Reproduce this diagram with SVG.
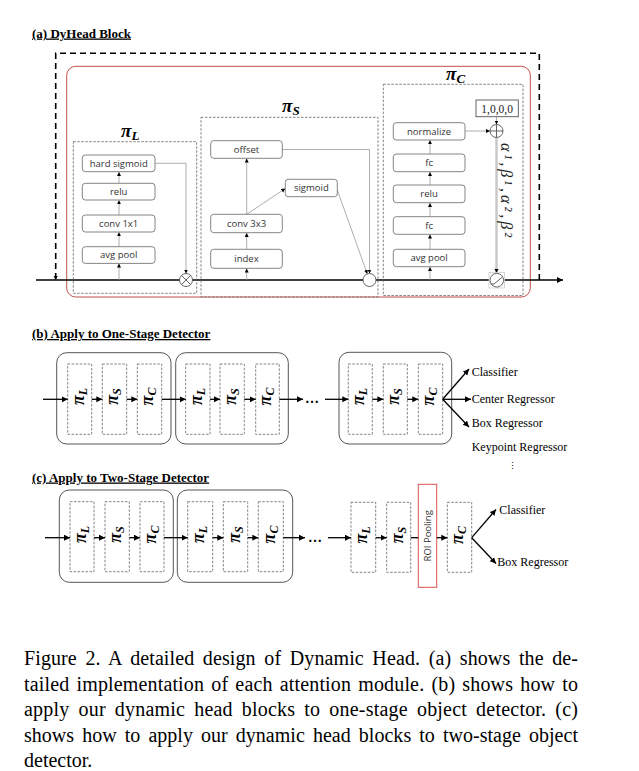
<svg xmlns="http://www.w3.org/2000/svg" width="639" height="771" viewBox="0 0 639 771">
<defs>
<style>
.box{fill:#fff;stroke:#777;stroke-width:0.9}
.lbl{font-family:"Open Sans","Liberation Sans",sans-serif;font-size:9.5px;fill:#333;text-anchor:middle}
.mod{fill:none;stroke:#666;stroke-width:0.8;stroke-dasharray:2.5 1.5}
.thin{fill:none;stroke:#999;stroke-width:0.8}
.pi{font-family:"Liberation Serif",serif;font-weight:bold;font-style:italic;font-size:19px;fill:#000}
.pir{font-family:"Liberation Serif",serif;font-weight:bold;font-style:italic;font-size:18px;fill:#000;text-anchor:middle}
.title{font-family:"Liberation Serif",serif;font-weight:bold;font-size:13px;text-decoration:underline;fill:#000}
.blk{fill:#fff;stroke:#555;stroke-width:1}
.arr{fill:none;stroke:#000;stroke-width:1.3}
.out{font-family:"Liberation Serif",serif;font-size:12px;fill:#000}
.cap{font-family:"Liberation Serif",serif;font-size:20px;fill:#000}
.op{fill:#fff;stroke:#555;stroke-width:0.9}
</style>
<marker id="sa" markerUnits="userSpaceOnUse" markerWidth="5" markerHeight="5" refX="4" refY="2" orient="auto"><path d="M0,0 L4,2 L0,4 z" fill="#000"/></marker>
<marker id="ba" markerUnits="userSpaceOnUse" markerWidth="8" markerHeight="8" refX="6" refY="3" orient="auto"><path d="M0,0 L6,3 L0,6 z" fill="#000"/></marker>
</defs>
<rect width="639" height="771" fill="#fff"/>

<!-- (a) -->
<text class="title" x="32" y="37.5">(a) DyHead Block</text>
<rect x="66.7" y="66.3" width="463.6" height="230.7" rx="9" fill="none" stroke="#c0504d" stroke-width="1"/>

<g id="connectors-a">
<path d="M539.3,280 V53.3 H55.7 V280" fill="none" stroke="#000" stroke-width="1.6" stroke-dasharray="6 4" marker-end="url(#sa)"/>
<path d="M36,280 H563" fill="none" stroke="#000" stroke-width="1.5" marker-end="url(#ba)"/>
<path class="thin" d="M119,280 V263.5" marker-end="url(#sa)"/>
<path class="thin" d="M119,246.7 V232.2" marker-end="url(#sa)"/>
<path class="thin" d="M119,215 V200.2" marker-end="url(#sa)"/>
<path class="thin" d="M119,183.3 V171.9" marker-end="url(#sa)"/>
<path class="thin" d="M155,163.3 H186 V273.5" marker-end="url(#sa)"/>
<path class="thin" d="M246.7,280 V268.5" marker-end="url(#sa)"/>
<path class="thin" d="M246.7,249.3 V232.9" marker-end="url(#sa)"/>
<path class="thin" d="M246.7,214.3 V158.5" marker-end="url(#sa)"/>
<path class="thin" d="M246.7,214.3 L285.3,188.5" marker-end="url(#sa)"/>
<path class="thin" d="M282.3,149.5 H369.5 V273.5" marker-end="url(#sa)"/>
<path class="thin" d="M337.3,190 L367.3,273.9" marker-end="url(#sa)"/>
<path class="thin" d="M430,280 V266.9" marker-end="url(#sa)"/>
<path class="thin" d="M430,249.3 V234.5" marker-end="url(#sa)"/>
<path class="thin" d="M430,216.7 V202.9" marker-end="url(#sa)"/>
<path class="thin" d="M430,185 V171.9" marker-end="url(#sa)"/>
<path class="thin" d="M430,154 V140.2" marker-end="url(#sa)"/>
<path class="thin" d="M465,131 H490" marker-end="url(#sa)"/>
<path class="thin" d="M496.5,116.7 V124.5" marker-end="url(#sa)"/>
<path d="M496.5,137.5 V273" fill="none" stroke="#c8c8c8" stroke-width="2.5" marker-end="url(#sa)"/>
</g>

<g id="piL">
<rect class="mod" x="73.3" y="141.7" width="123.4" height="151.6"/>
<text class="pi" x="121" y="136.5">π<tspan font-size="13" dy="3">L</tspan></text>
<rect class="box" x="82.3" y="155" width="72.7" height="16.7" rx="3"/>
<text class="lbl" x="118.7" y="166.7">hard sigmoid</text>
<rect class="box" x="82.3" y="183.3" width="72.7" height="16.7" rx="3"/>
<text class="lbl" x="118.7" y="195">relu</text>
<rect class="box" x="82.3" y="215" width="72.7" height="17" rx="3"/>
<text class="lbl" x="118.7" y="226.8">conv 1x1</text>
<rect class="box" x="82.3" y="246.7" width="72.7" height="16.7" rx="3"/>
<text class="lbl" x="118.7" y="258.4">avg pool</text>
</g>

<g id="piS">
<rect class="mod" x="201" y="117.3" width="177" height="179.7"/>
<text class="pi" x="282" y="111.5">π<tspan font-size="13" dy="3">S</tspan></text>
<rect class="box" x="210.7" y="140.7" width="71.6" height="17.6" rx="3"/>
<text class="lbl" x="246.5" y="152.8">offset</text>
<rect class="box" x="285.3" y="179.3" width="52" height="17.4" rx="3"/>
<text class="lbl" x="311.3" y="191.3">sigmoid</text>
<rect class="box" x="210.7" y="214.3" width="71.6" height="18.4" rx="3"/>
<text class="lbl" x="246.5" y="226.8">conv 3x3</text>
<rect class="box" x="210.7" y="249.3" width="71.6" height="19" rx="3"/>
<text class="lbl" x="246.5" y="262.1">index</text>
</g>

<g id="piC">
<rect class="mod" x="383.3" y="84.3" width="139.7" height="211.2"/>
<text class="pi" x="446" y="80">π<tspan font-size="13" dy="3">C</tspan></text>
<rect x="476" y="100" width="42.3" height="16.7" fill="#fff" stroke="#555" stroke-width="0.9"/>
<text x="497.1" y="112.5" text-anchor="middle" font-family="Liberation Serif,serif" font-size="11.5" fill="#222">1,0,0,0</text>
<rect class="box" x="393.3" y="122.7" width="71.7" height="17.3" rx="3"/>
<text class="lbl" x="429.1" y="134.7">normalize</text>
<rect class="box" x="393.3" y="154" width="71.7" height="17.7" rx="3"/>
<text class="lbl" x="429.1" y="166.2">fc</text>
<rect class="box" x="393.3" y="185" width="71.7" height="17.7" rx="3"/>
<text class="lbl" x="429.1" y="197.2">relu</text>
<rect class="box" x="393.3" y="216.7" width="71.7" height="17.6" rx="3"/>
<text class="lbl" x="429.1" y="228.8">fc</text>
<rect class="box" x="393.3" y="249.3" width="71.7" height="17.4" rx="3"/>
<text class="lbl" x="429.1" y="261.3">avg pool</text>
<text transform="translate(500.5,190) rotate(90)" text-anchor="middle" font-family="Liberation Serif,serif" font-style="italic" font-size="16" fill="#222" textLength="94" lengthAdjust="spacing">α¹,β¹,α²,β²</text>
</g>

<g id="ops">
<circle class="op" cx="186" cy="280" r="6.5"/>
<path d="M181.4,275.4 L190.6,284.6 M190.6,275.4 L181.4,284.6" stroke="#555" stroke-width="0.9"/>
<circle class="op" cx="369.5" cy="280" r="6.5"/>
<circle class="op" cx="496.5" cy="131" r="6.5"/>
<path d="M490,131 H503 M496.5,124.5 V137.5" stroke="#555" stroke-width="0.9"/>
<rect x="489" y="272.5" width="15.5" height="15.5" fill="#fff" stroke="#ccc" stroke-width="0.8"/>
<circle class="op" cx="496.8" cy="280.2" r="6.8"/>
<path d="M490.8,284 L494,284 L502.5,277" fill="none" stroke="#555" stroke-width="0.9"/>
</g>

<!-- (b) -->
<text class="title" x="32" y="338">(b) Apply to One-Stage Detector</text>
<g id="b-block1">
<rect class="blk" x="56.7" y="352.7" width="114.3" height="91.3" rx="10"/>
<rect class="mod" x="67.7" y="364" width="24" height="70.3"/>
<rect class="mod" x="102.3" y="364" width="24.4" height="70.3"/>
<rect class="mod" x="137.3" y="364" width="24.4" height="70.3"/>
<text class="pir" transform="translate(83.6,396.5) rotate(-90)">π<tspan font-size="12" dy="3">L</tspan></text>
<text class="pir" transform="translate(118.4,396.5) rotate(-90)">π<tspan font-size="12" dy="3">S</tspan></text>
<text class="pir" transform="translate(153.4,396.5) rotate(-90)">π<tspan font-size="12" dy="3">C</tspan></text>
</g>
<g id="b-block2">
<rect class="blk" x="175.7" y="352.7" width="112.6" height="91.3" rx="10"/>
<rect class="mod" x="185.7" y="364" width="24.3" height="70.3"/>
<rect class="mod" x="220" y="364" width="24.3" height="70.3"/>
<rect class="mod" x="255.7" y="364" width="23.6" height="70.3"/>
<text class="pir" transform="translate(201.7,396.5) rotate(-90)">π<tspan font-size="12" dy="3">L</tspan></text>
<text class="pir" transform="translate(236,396.5) rotate(-90)">π<tspan font-size="12" dy="3">S</tspan></text>
<text class="pir" transform="translate(271.3,396.5) rotate(-90)">π<tspan font-size="12" dy="3">C</tspan></text>
</g>
<g id="b-block3">
<rect class="blk" x="339" y="352.3" width="112.7" height="91.7" rx="10"/>
<rect class="mod" x="348.3" y="364" width="24" height="70.3"/>
<rect class="mod" x="383.3" y="364" width="24" height="70.3"/>
<rect class="mod" x="418.3" y="364" width="24.4" height="70.3"/>
<text class="pir" transform="translate(364.2,396.5) rotate(-90)">π<tspan font-size="12" dy="3">L</tspan></text>
<text class="pir" transform="translate(399.2,396.5) rotate(-90)">π<tspan font-size="12" dy="3">S</tspan></text>
<text class="pir" transform="translate(434.3,396.5) rotate(-90)">π<tspan font-size="12" dy="3">C</tspan></text>
</g>
<g id="connectors-b">
<path class="arr" d="M43,399.3 H67.7" marker-end="url(#ba)"/>
<path class="arr" d="M91.7,399.3 H102.3" marker-end="url(#ba)"/>
<path class="arr" d="M126.7,399.3 H137.3" marker-end="url(#ba)"/>
<path class="arr" d="M161.7,399.3 H185.7" marker-end="url(#ba)"/>
<path class="arr" d="M210,399.3 H220" marker-end="url(#ba)"/>
<path class="arr" d="M244.3,399.3 H255.7" marker-end="url(#ba)"/>
<path class="arr" d="M279.3,399.3 H303" marker-end="url(#ba)"/>
<path class="arr" d="M325,399.3 H348.3" marker-end="url(#ba)"/>
<path class="arr" d="M372.3,399.3 H383.3" marker-end="url(#ba)"/>
<path class="arr" d="M407.3,399.3 H418.3" marker-end="url(#ba)"/>
<path class="arr" d="M442.7,399.3 L469,369" marker-end="url(#ba)"/>
<path class="arr" d="M442.7,399.3 H471" marker-end="url(#ba)"/>
<path class="arr" d="M442.7,399.3 L469,427" marker-end="url(#ba)"/>
</g>
<text x="312" y="403" text-anchor="middle" font-family="Liberation Serif,serif" font-weight="bold" font-size="14">…</text>
<g id="b-outputs">
<text class="out" x="471.7" y="376">Classifier</text>
<text class="out" x="471.7" y="402.7">Center Regressor</text>
<text class="out" x="471.7" y="427.3">Box Regressor</text>
<text class="out" x="471.7" y="450.7">Keypoint Regressor</text>
<text x="512.7" y="469" text-anchor="middle" font-family="DejaVu Serif,serif" font-size="9">⋮</text>
</g>

<!-- (c) -->
<text class="title" x="32" y="481.5">(c) Apply to Two-Stage Detector</text>
<g id="c-block1">
<rect class="blk" x="59.3" y="490" width="114" height="92.3" rx="10"/>
<rect class="mod" x="70" y="501.7" width="24" height="70"/>
<rect class="mod" x="105" y="501.7" width="24.3" height="70"/>
<rect class="mod" x="140" y="501.7" width="24" height="70"/>
<text class="pir" transform="translate(86,534.5) rotate(-90)">π<tspan font-size="12" dy="3">L</tspan></text>
<text class="pir" transform="translate(121,534.5) rotate(-90)">π<tspan font-size="12" dy="3">S</tspan></text>
<text class="pir" transform="translate(156,534.5) rotate(-90)">π<tspan font-size="12" dy="3">C</tspan></text>
</g>
<g id="c-block2">
<rect class="blk" x="177.3" y="490" width="115.4" height="92.3" rx="10"/>
<rect class="mod" x="187.7" y="501.7" width="25" height="70"/>
<rect class="mod" x="223.3" y="501.7" width="24.4" height="70"/>
<rect class="mod" x="258.3" y="501.7" width="25" height="70"/>
<text class="pir" transform="translate(204,534.5) rotate(-90)">π<tspan font-size="12" dy="3">L</tspan></text>
<text class="pir" transform="translate(239.5,534.5) rotate(-90)">π<tspan font-size="12" dy="3">S</tspan></text>
<text class="pir" transform="translate(274.6,534.5) rotate(-90)">π<tspan font-size="12" dy="3">C</tspan></text>
</g>
<g id="c-stage">
<rect class="mod" x="351" y="502.3" width="24.7" height="70"/>
<rect class="mod" x="386.7" y="502.3" width="24" height="70"/>
<rect class="mod" x="447.3" y="502.3" width="24.4" height="70"/>
<text class="pir" transform="translate(367.2,535) rotate(-90)">π<tspan font-size="12" dy="3">L</tspan></text>
<text class="pir" transform="translate(402.6,535) rotate(-90)">π<tspan font-size="12" dy="3">S</tspan></text>
<text class="pir" transform="translate(463.3,535) rotate(-90)">π<tspan font-size="12" dy="3">C</tspan></text>
</g>
<g id="roi">
<rect x="418.3" y="484.3" width="18.4" height="103" fill="#fff" stroke="#d9534f" stroke-width="1"/>
<text class="lbl" transform="translate(431,535.8) rotate(-90)" font-size="10.5">ROI Pooling</text>
</g>
<g id="connectors-c">
<path class="arr" d="M45,537.7 H70" marker-end="url(#ba)"/>
<path class="arr" d="M94,537.7 H105" marker-end="url(#ba)"/>
<path class="arr" d="M129.3,537.7 H140" marker-end="url(#ba)"/>
<path class="arr" d="M164,537.7 H187.7" marker-end="url(#ba)"/>
<path class="arr" d="M212.7,537.7 H223.3" marker-end="url(#ba)"/>
<path class="arr" d="M247.7,537.7 H258.3" marker-end="url(#ba)"/>
<path class="arr" d="M283.3,537.7 H305" marker-end="url(#ba)"/>
<path class="arr" d="M328,537.7 H351" marker-end="url(#ba)"/>
<path class="arr" d="M375.7,537.7 H386.7" marker-end="url(#ba)"/>
<path class="arr" d="M410.7,537.7 H418.3"/>
<path class="arr" d="M436.7,537.7 H447.3" marker-end="url(#ba)"/>
<path class="arr" d="M471.7,537.7 L496,509.5" marker-end="url(#ba)"/>
<path class="arr" d="M471.7,537.7 L496,563.5" marker-end="url(#ba)"/>
</g>
<text x="315" y="541.5" text-anchor="middle" font-family="Liberation Serif,serif" font-weight="bold" font-size="14">…</text>
<g id="c-outputs">
<text class="out" x="499.3" y="513.5">Classifier</text>
<text class="out" x="497.3" y="565.5">Box Regressor</text>
</g>

<!-- caption -->
<text class="cap" x="24" y="665" word-spacing="3.5" textLength="554" lengthAdjust="spacing">Figure 2. A detailed design of Dynamic Head. (a) shows the de-</text>
<text class="cap" x="24" y="690.5" word-spacing="2" textLength="554" lengthAdjust="spacing">tailed implementation of each attention module. (b) shows how to</text>
<text class="cap" x="24" y="716" word-spacing="3.8" textLength="554" lengthAdjust="spacing">apply our dynamic head blocks to one-stage object detector. (c)</text>
<text class="cap" x="24" y="741.5" word-spacing="3" textLength="554" lengthAdjust="spacing">shows how to apply our dynamic head blocks to two-stage object</text>
<text class="cap" x="24" y="767">detector.</text>
</svg>
